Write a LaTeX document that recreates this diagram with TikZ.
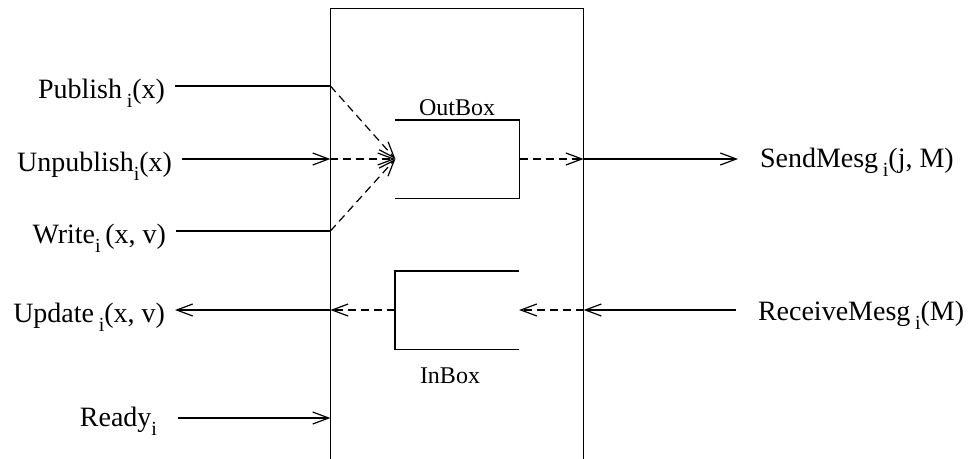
\documentclass[tikz,border=0pt]{standalone}
\usepackage{fontspec}
\setmainfont{Liberation Serif}
\usetikzlibrary{arrows.meta}
\newcommand{\sub}[1]{\raisebox{-0.33em}{\fontsize{20}{20}\selectfont #1}}
\tikzset{
  lbl/.style={font=\fontsize{28}{28}\selectfont, inner sep=0pt, outer xsep=10pt,
    text height=25pt, text depth=0pt},
  rlbl/.style={lbl, outer xsep=22pt},
  boxlbl/.style={font=\fontsize{24}{24}\selectfont, inner sep=0pt},
  buf/.style={inner sep=0pt, minimum width=123pt, minimum height=77pt},
  flow/.style={-{Straight Barb[length=16pt,width=12pt]}},
  dflow/.style={flow, dash pattern=on 8pt off 5pt},
}
\begin{document}
\begin{tikzpicture}[x=1pt, y=-1pt, line width=1.2pt]
      \useasboundingbox (0,0) rectangle (977,458);
      \node[inner sep=0pt, minimum width=252pt, minimum height=449pt] (proc) at (457,233.5) {};
      \node[buf] (obox) at (457.5,159) {};
      \node[buf] (ibox) at (457,310) {};
      \draw (proc.south west) -- (proc.north west) -- (proc.north east) -- (proc.south east);
      \draw (obox.north west) -- (obox.north east) -- (obox.south east) -- (obox.south west);
      \draw (ibox.north east) -- (ibox.north west) -- (ibox.south west) -- (ibox.south east);
      \node[boxlbl, anchor=base] (olbl) at (457,115) {OutBox};
      \node[boxlbl, anchor=base] (ilbl) at (450,383) {InBox};
      \coordinate (e1) at (proc.west |- 0,86);
      \coordinate (e2) at (proc.west |- 0,159);
      \coordinate (e3) at (proc.west |- 0,231);
      \coordinate (e4) at (proc.west |- 0,310);
      \coordinate (e5) at (proc.east |- 0,310);
      \coordinate (e6) at (proc.east |- 0,159);
      \coordinate (e7) at (proc.west |- 0,418);
      \node[lbl, anchor=east] (pub) at (175,86) {Publish\,\sub{i}(x)};
      \node[lbl, anchor=east] (unpub) at (182,159) {Unpublish\sub{i}(x)};
      \node[lbl, anchor=east] (wr) at (176,231) {Write\sub{i}\,(x, v)};
      \node[lbl, anchor=east] (upd) at (175,310) {Update\,\sub{i}(x, v)};
      \node[lbl, anchor=east, outer xsep=21pt, text height=16pt] (rdy) at (178,418) {Ready\sub{i}};
      \node[rlbl, anchor=west, text height=17pt] (send) at (738,159) {SendMesg\,\sub{i}(j, M)};
      \node[rlbl, anchor=west, text height=21pt] (recv) at (736,310) {ReceiveMesg\,\sub{i}(M)};
      \begin{scope}[dflow]
        \draw (e1) to (obox.west);
        \draw (e2) to (obox.west);
        \draw (e3) to (obox.west);
        \draw (obox.east) to (e6);
        \draw (ibox.west) to (e4);
        \draw (e5) to (ibox.east);
      \end{scope}
      \draw (pub) to (e1);
      \draw[flow] (unpub) to (e2);
      \draw (wr) to (e3);
      \draw[flow] (e4) to (upd);
      \draw[flow] (rdy) to (e7);
      \draw[flow] (e6) to (send);
      \draw[flow] (recv) to (e5);
    \end{tikzpicture}
\end{document}
